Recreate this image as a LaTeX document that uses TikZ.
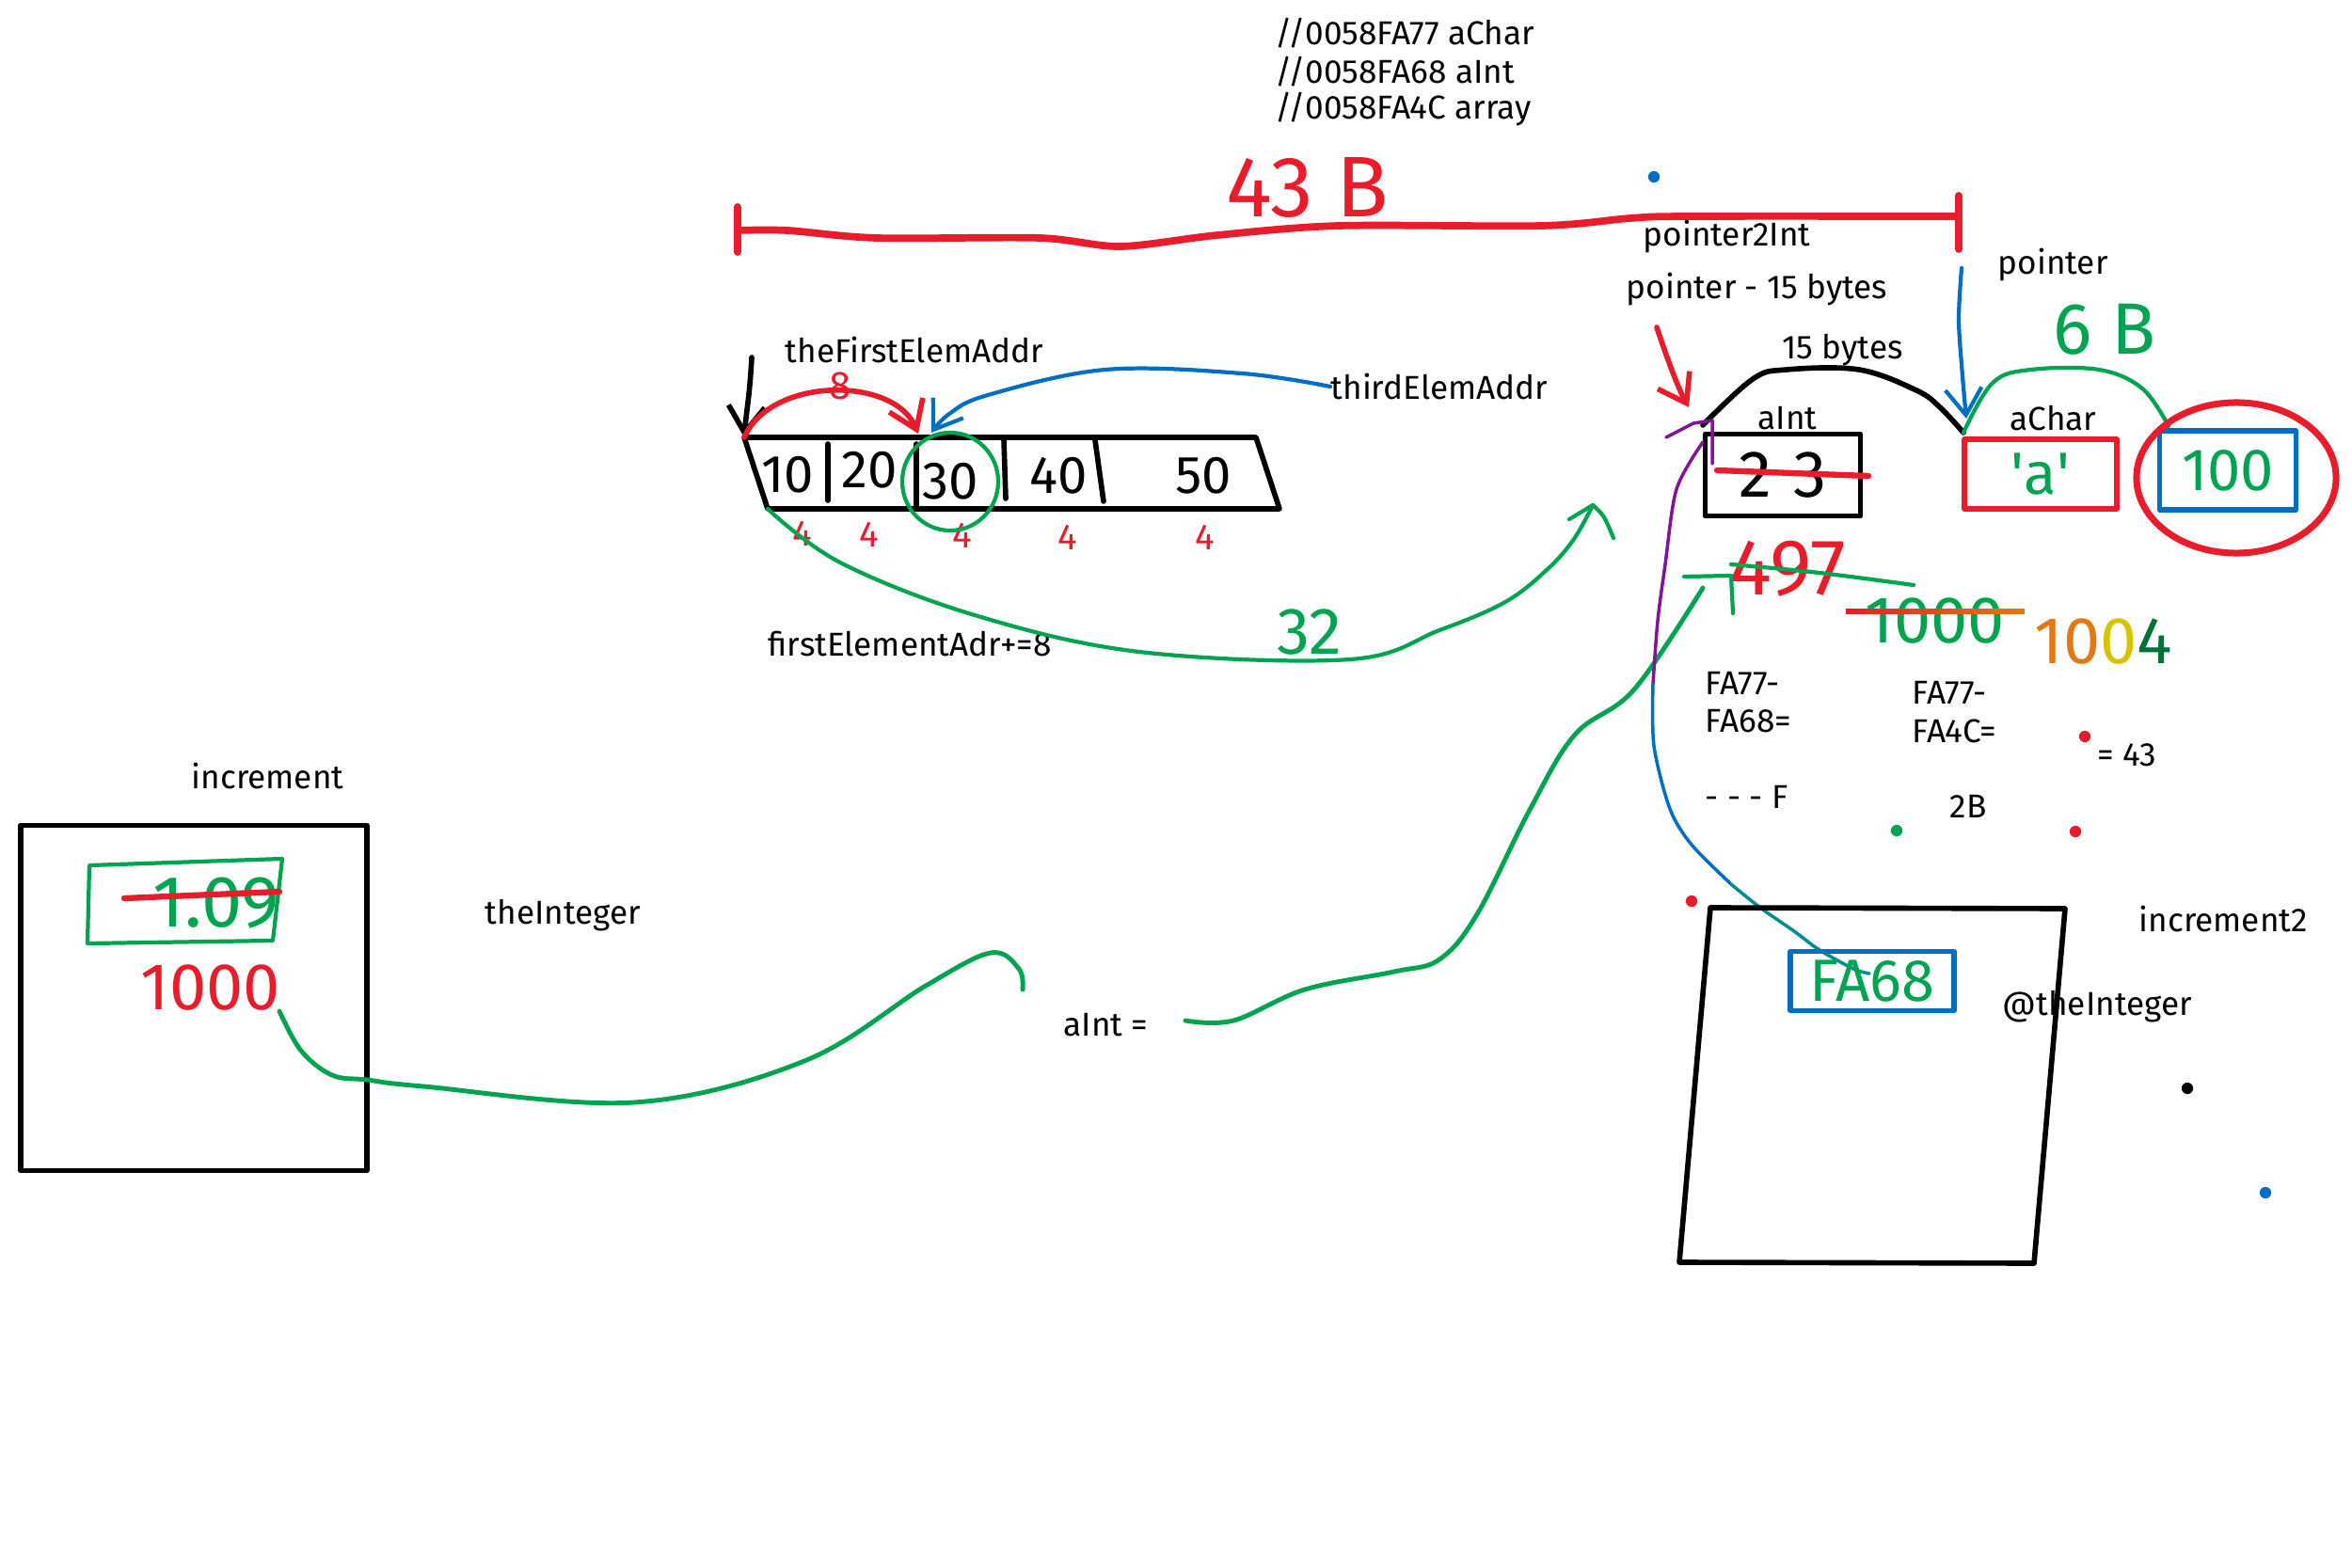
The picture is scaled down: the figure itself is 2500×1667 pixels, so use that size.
\documentclass[tikz,border=0pt]{standalone}
\usepackage{fontspec}
\setmainfont{Fira Sans}
\usetikzlibrary{positioning, arrows.meta}

\definecolor{penred}{RGB}{232,28,42}
\definecolor{pengreen}{RGB}{0,163,80}
\definecolor{penblue}{RGB}{0,110,196}
\definecolor{penviolet}{RGB}{130,20,150}
\definecolor{penteal}{RGB}{0,140,150}
\definecolor{penorange}{RGB}{228,120,20}
\definecolor{penyellow}{RGB}{215,195,0}

\tikzset{
  txt/.style={font=\fontsize{10}{12}\selectfont, inner sep=0pt},
  hand/.style={font=\fontsize{#1}{#1}\selectfont, inner sep=0pt},
  pen/.style={line width=#1, line cap=round, line join=round},
  pen/.default=1.2pt,
  dot/.style={circle, inner sep=0pt, minimum size=3.5pt},
  cellbox/.style={draw, pen=1.5pt, inner sep=0pt},
}

\begin{document}
\begin{tikzpicture}[x=0.01cm, y=-0.01cm, >={Straight Barb[length=8pt, width=11pt]}]
  \useasboundingbox (0,0) rectangle (2500,1667);
  \begin{scope}[every node/.style={txt, anchor=west}]
    \node (cmtChar) at (1355, 35) {//0058FA77 aChar};
    \node (cmtInt) at (1355, 76) {//0058FA68 aInt};
    \node (cmtArr) at (1355, 116) {//0058FA4C array};
    \node (ptrInt) at (1746, 252) {pointer2Int};
    \node (ptrMinus) at (1728, 308) {pointer - 15 bytes};
    \node (ptrLbl) at (2123, 282) {pointer};
    \node (bytes) at (1894, 372) {15 bytes};
    \node (aIntLbl) at (1868, 445) {aInt};
    \node (aCharLbl) at (2136, 445) {aChar};
    \node (firstLbl) at (834, 372) {theFirstElemAddr};
    \node (thirdLbl) at (1414, 411) {thirdElemAddr};
    \node (firstInc) at (816, 685) {firstElementAdr+=8};
    \node (incLbl) at (203, 825) {increment};
    \node (intLbl) at (515, 973) {theInteger};
    \node (aIntEq) at (1130, 1090) {aInt =};
    \node (subA1) at (1812, 727) {FA77-};
    \node (subA2) at (1812, 767) {FA68=};
    \node (subB1) at (2032, 737) {FA77-};
    \node (subB2) at (2032, 777) {FA4C=};
    \node (eq43) at (2229, 803) {= 43};
    \node (resF) at (1812, 847) {- - - F};
    \node (res2B) at (2072, 857) {2B};
    \node (inc2Lbl) at (2273, 977) {increment2};
    \node (atInt) at (2128, 1070) {@theInteger};
  \end{scope}

  \coordinate (brL) at (784, 245);
  \coordinate (brR) at (2082, 230);
  \draw[pen=2.2pt, penred] (784, 220) -- (784, 268);
  \draw[pen=2.2pt, penred] (2082, 208) -- (2082, 265);
  \draw[pen=2.2pt, penred] plot[smooth, tension=0.5] coordinates {(brL) (837,245) (932,253) (1105,253) (1191,262) (1294,250) (1423,240) (1639,240) (1733,232) (1794,230) (brR)};
  \node[hand=26, text=penred] (size43) at (1390, 200) {43 B};

  \coordinate (arrTL) at (791, 465);
  \coordinate (arrTR) at (1335, 465);
  \coordinate (arrBR) at (1360, 541);
  \coordinate (arrBL) at (816, 541);
  \draw[pen=1.6pt] (arrTL) -- (arrTR) -- (arrBR) -- (arrBL) -- cycle;
  \draw[pen=1.6pt] (880, 472) -- (880, 532);
  \draw[pen=1.6pt] (974, 472) -- (974, 540);
  \draw[pen=1.6pt] (1067, 467) -- (1069, 530);
  \draw[pen=1.6pt] (1164, 468) -- (1173, 533);
  \begin{scope}[every node/.style={hand=16}]
    \node (v10) at (837, 505) {10};
    \node (v20) at (924, 500) {20};
    \node (v30) at (1010, 512) {30};
    \node (v40) at (1125, 506) {40};
    \node (v50) at (1279, 506) {50};
  \end{scope}
  \begin{scope}[every node/.style={hand=11, text=penred}]
    \node (s1) at (853, 567) {4};
    \node (s2) at (924, 568) {4};
    \node (s3) at (1023, 569) {4};
    \node (s4) at (1135, 571) {4};
    \node (s5) at (1281, 571) {4};
  \end{scope}
  \draw[pen, pengreen] (v30) ellipse [x radius=0.51cm, y radius=0.52cm];

  \coordinate (firstTail) at (799, 380);
  \coordinate (cell3) at (976, 461);
  \coordinate (cell3b) at (990, 460);
  \draw[pen=1.6pt, ->] (firstTail) .. controls (797, 420) and (793, 440) .. (arrTL);
  \draw[pen=1.6pt, penred, ->] (arrTL) .. controls (820, 400) and (950, 400) .. (cell3);
  \node[hand=12, text=penred] (eight) at (893, 410) {8};
  \draw[pen, penblue, ->] plot[smooth, tension=0.6] coordinates {(thirdLbl.west) (1320,397) (1175,393) (1050,420) (1009,440) (cell3b)};

  \coordinate (tipA) at (1693, 537);
  \draw[pen, pengreen] plot[smooth, tension=0.6] coordinates {(arrBL) (893,598) (1036,654) (1211,693) (1435,701) (1530,670) (1600,640) (1645,605) (1673,573) (tipA)};
  \draw[pen, pengreen] (1668, 552) -- (tipA) .. controls (1705, 548) .. (1715, 572);
  \node[hand=20, text=pengreen] (off32) at (1392, 672) {32};

  \coordinate (redTail) at (1761, 348);
  \coordinate (arcA) at (1810, 452);
  \coordinate (arcB) at (2087, 460);
  \draw[pen=1.6pt, penred, ->] (redTail) .. controls (1775, 390) and (1785, 415) .. (1795, 433);
  \draw[pen=1.6pt] plot[smooth, tension=0.6] coordinates {(arcA) (1863,403) (1899,393) (1976,393) (2037,415) (2062,433) (arcB)};
  \draw[pen, pengreen] plot[smooth, tension=0.6] coordinates {(arcB) (2118,407) (2159,393) (2231,393) (2277,413) (2305,453)};
  \coordinate (ptrTail) at (2085, 285);
  \draw[pen, penblue, ->] plot[smooth] coordinates {(ptrTail) (2082,340) (2086,400) (2090,445)};
  \node[hand=22, text=pengreen] (six) at (2237, 350) {6 B};

  \node[cellbox, minimum width=1.65cm, minimum height=0.87cm, hand=20] (aIntBox) at (1895, 505) {2\,\,3};
  \draw[pen=1.8pt, penred] (1825, 500) -- (1986, 506);
  \node[cellbox, draw=penred, minimum width=1.62cm, minimum height=0.74cm, hand=18, text=pengreen] (aCharBox) at (2169, 504) {\textquotesingle a\textquotesingle};
  \node[cellbox, draw=penblue, minimum width=1.45cm, minimum height=0.84cm, hand=18, text=pengreen] (hundBox) at (2368, 500) {100};
  \draw[pen=2pt, penred] (2377, 508) ellipse [x radius=1.06cm, y radius=0.8cm];

  \node[hand=24, text=penred] (v497) at (1900, 605) {497};
  \draw[pen, pengreen] (1790, 613) -- (1840, 612) -- (1842, 652);
  \draw[pen, pengreen] (1840, 600) .. controls (1930, 608) .. (2034, 622);
  \node[hand=20, text=pengreen] (v1000) at (2057, 660) {1000};
  \shade[left color=penred, right color=penorange] (1962, 647) rectangle (2152, 652);
  \node[hand=20] (v1004) at (2236, 682) {\textcolor{penorange}{10}\textcolor{penyellow}{0}\textcolor{pengreen!70!black}{4}};

  \coordinate (eqTail) at (1260, 1085);
  \draw[pen=1.4pt, pengreen] plot[smooth, tension=0.6] coordinates {(eqTail) (1311,1085) (1387,1052) (1482,1033) (1530,1020) (1570,972) (1626,861) (1674,781) (1737,733) (1810,625)};

  \coordinate (ptrTop) at (1810, 470);
  \coordinate (ptrMid) at (1757, 727);
  \coordinate (ptrLow) at (1840, 940);
  \coordinate (ptrEnd) at (1987, 1035);
  \draw[pen=1pt, penviolet] (1771, 465) -- (1800, 450) -- (1820, 447) -- (1820, 493);
  \draw[pen=1pt, penviolet] plot[smooth] coordinates {(ptrTop) (1782,520) (1770,600) (1762,660) (ptrMid)};
  \draw[pen=1pt, penblue] plot[smooth] coordinates {(ptrMid) (1758,793) (1775,860) (1798,898) (ptrLow)};
  \draw[pen=1pt, penteal] plot[smooth] coordinates {(ptrLow) (1871,965) (1907,990) (1934,1010) (1970,1030) (ptrEnd)};

  \node[cellbox, minimum width=3.68cm, minimum height=3.67cm] (incBox) at (206, 1061) {};
  \draw[pen, pengreen] (95, 920) -- (300, 913) -- (290, 1000) -- (93, 1003) -- cycle;
  \node[hand=22, text=pengreen] (v109) at (230, 960) {1.09};
  \draw[pen=1.8pt, penred] (132, 955) -- (297, 948);
  \node[hand=20, text=penred] (v1000r) at (224, 1050) {1000};
  \draw[pen=1.4pt, pengreen] plot[smooth, tension=0.6] coordinates {(297,1075) (320,1117) (353,1143) (390,1148) (450,1155) (674,1172) (855,1128) (984,1048) (1053,1013) (1083,1030) (1087,1052)};

  \draw[pen=1.6pt] (1818, 965) -- (2195, 966) -- (2162, 1343) -- (1785, 1342) -- cycle;
  \node[cellbox, draw=penblue, minimum width=1.74cm, minimum height=0.63cm, hand=18, text=pengreen] (faBox) at (1990, 1043) {FA68};

  \node[dot, fill=penblue] (d1) at (1758, 188) {};
  \node[dot, fill=penred] (d2) at (2216, 783) {};
  \node[dot, fill=penred] (d3) at (2206, 884) {};
  \node[dot, fill=pengreen] (d4) at (2016, 883) {};
  \node[dot, fill=penred] (d5) at (1798, 958) {};
  \node[dot, fill=black] (d6) at (2325, 1157) {};
  \node[dot, fill=penblue] (d7) at (2408, 1268) {};
\end{tikzpicture}
\end{document}
